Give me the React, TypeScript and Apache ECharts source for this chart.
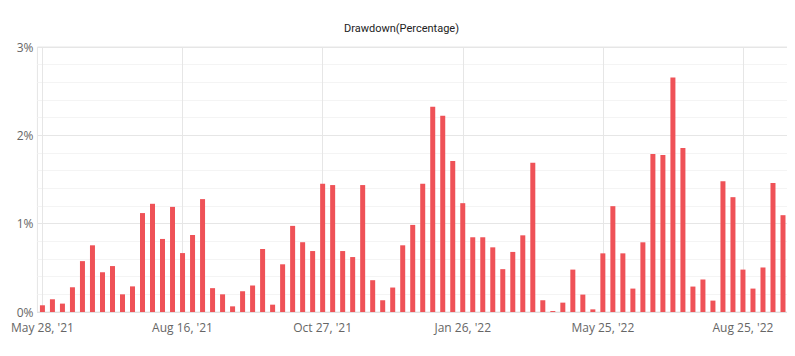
import React, { useEffect, useRef } from "react";
import * as echarts from "echarts";

const title = "Drawdown(Percentage)";

const categories: string[] = [
  "May 28, '21", "Jun 3, '21", "Jun 9, '21", "Jun 15, '21", "Jun 21, '21", "Jun 25, '21", "Jul 1, '21",
  "Jul 7, '21", "Jul 13, '21", "Jul 19, '21", "Jul 23, '21", "Jul 29, '21", "Aug 4, '21", "Aug 10, '21",
  "Aug 16, '21", "Aug 20, '21", "Aug 26, '21", "Sep 1, '21", "Sep 7, '21", "Sep 13, '21", "Sep 17, '21",
  "Sep 23, '21", "Sep 29, '21", "Oct 5, '21", "Oct 11, '21", "Oct 15, '21", "Oct 21, '21", "Oct 25, '21",
  "Oct 27, '21", "Nov 2, '21", "Nov 8, '21", "Nov 12, '21", "Nov 18, '21", "Nov 24, '21", "Nov 30, '21",
  "Dec 6, '21", "Dec 10, '21", "Dec 16, '21", "Dec 22, '21", "Dec 28, '21", "Jan 3, '22", "Jan 14, '22",
  "Jan 26, '22", "Feb 3, '22", "Feb 11, '22", "Feb 21, '22", "Mar 1, '22", "Mar 9, '22", "Mar 17, '22",
  "Mar 25, '22", "Apr 4, '22", "Apr 12, '22", "Apr 20, '22", "Apr 28, '22", "May 6, '22", "May 16, '22",
  "May 25, '22", "May 31, '22", "Jun 7, '22", "Jun 14, '22", "Jun 20, '22", "Jun 27, '22", "Jul 4, '22",
  "Jul 11, '22", "Jul 18, '22", "Jul 25, '22", "Aug 1, '22", "Aug 8, '22", "Aug 12, '22", "Aug 19, '22",
  "Aug 25, '22", "Sep 1, '22", "Sep 8, '22", "Sep 15, '22", "Sep 22, '22",
];

const drawdown: number[] = [
  0.076, 0.144, 0.095, 0.28, 0.576, 0.755, 0.45, 0.52, 0.2, 0.29,
  1.12, 1.225, 0.827, 1.19, 0.667, 0.872, 1.278, 0.27, 0.2, 0.064,
  0.235, 0.3, 0.713, 0.083, 0.54, 0.975, 0.79, 0.69, 1.452, 1.437,
  0.69, 0.622, 1.437, 0.36, 0.133, 0.277, 0.755, 0.986, 1.452, 2.325,
  2.222, 1.71, 1.232, 0.846, 0.846, 0.732, 0.485, 0.68, 0.868, 1.69,
  0.133, 0.011, 0.106, 0.48, 0.197, 0.03, 0.664, 1.198, 0.664, 0.265,
  0.789, 1.79, 1.778, 2.655, 1.858, 0.288, 0.368, 0.129, 1.479, 1.3,
  0.48, 0.265, 0.504, 1.46, 1.096,
];

const yTicks = { min: 0, max: 3, interval: 1 };

export default function App() {
  const ref = useRef<HTMLDivElement>(null);
  useEffect(() => {
    if (!ref.current) return;
    const chart = echarts.init(ref.current, null, { renderer: "svg" });
    chart.setOption({
      animation: false,
      title: {
        text: title,
        left: "center",
        top: 10,
        textStyle: {
          fontFamily: "Roboto, 'Noto Sans', sans-serif",
          fontSize: 11,
          fontWeight: "normal",
          color: "#222",
        },
      },
      grid: {
        left: 27,
        right: 7,
        top: 39,
        bottom: 44,
        show: true,
        borderColor: "#e6e6e6",
        borderWidth: 1,
      },
      xAxis: {
        type: "category",
        data: categories,
        boundaryGap: true,
        axisLine: { show: true, lineStyle: { color: "#e0e0e0" } },
        axisTick: { show: false },
        axisLabel: {
          interval: 13,
          color: "#666",
          fontSize: 12,
          margin: 9,
          fontFamily: "'Open Sans', 'Noto Sans', sans-serif",
        },
        splitLine: {
          show: true,
          interval: 13,
          alignWithLabel: true,
          lineStyle: { color: "#e6e6e6" },
        },
      },
      yAxis: {
        type: "value",
        min: yTicks.min,
        max: yTicks.max,
        interval: yTicks.interval,
        axisLine: { show: false },
        axisTick: { show: false },
        axisLabel: {
          formatter: "{value}%",
          color: "#666",
          fontSize: 12,
          margin: 4,
          fontFamily: "'Open Sans', 'Noto Sans', sans-serif",
        },
        splitLine: { show: true, lineStyle: { color: "#e6e6e6" } },
        minorTick: { show: false, splitNumber: 5 },
        minorSplitLine: { show: true, lineStyle: { color: "#f4f4f4" } },
      },
      series: [
        {
          type: "bar",
          data: drawdown,
          barWidth: 5,
          itemStyle: { color: "#ef5257" },
        },
      ],
    });
    return () => chart.dispose();
  }, []);
  return <div ref={ref} style={{ width: 787, height: 348 }} />;
}
